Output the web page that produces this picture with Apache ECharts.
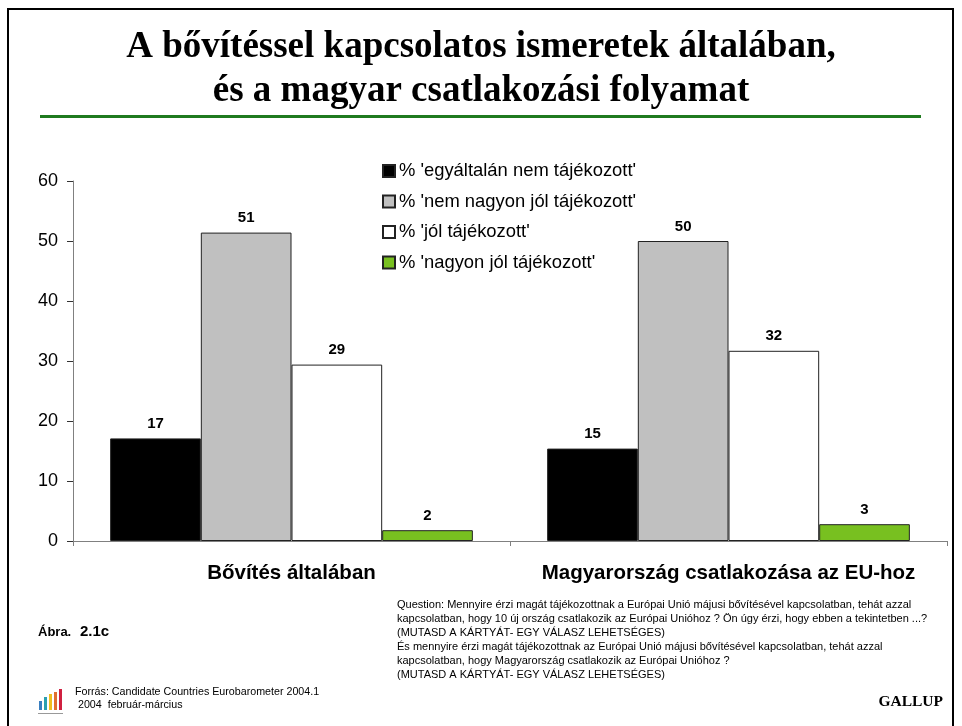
<!DOCTYPE html>
<html>
<head>
<meta charset="utf-8">
<title>Bővítés</title>
<script src="https://cdn.jsdelivr.net/npm/echarts@6/dist/echarts.min.js"></script>
<style>
  html, body { margin: 0; padding: 0; background: #fff; }
  #chart { width: 962px; height: 726px; }
</style>
</head>
<body>
<div id="chart"></div>
<script>
var categories = ['Bővítés általában', 'Magyarország csatlakozása az EU-hoz'];
var seriesNames = ["% 'egyáltalán nem tájékozott'", "% 'nem nagyon jól tájékozott'", "% 'jól tájékozott'", "% 'nagyon jól tájékozott'"];
var notInformed = [17.1, 15.4];
var notVeryWell = [51.4, 50.0];
var wellInformed = [29.4, 31.7];
var veryWell = [1.8, 2.8];
var yTicks = [0, 10, 20, 30, 40, 50, 60];

var colors = ['#000000', '#c0c0c0', '#ffffff', '#78c020'];
var values = [notInformed, notVeryWell, wellInformed, veryWell];

var chart = echarts.init(document.getElementById('chart'));

var series = seriesNames.map(function (name, i) {
    return {
        name: name,
        type: 'bar',
        data: values[i],
        barGap: '0%',
        barCategoryGap: '17%',
        itemStyle: { color: colors[i], borderColor: '#222', borderWidth: 1 },
        label: {
            show: true,
            position: 'top',
            distance: 7,
            fontFamily: 'Liberation Sans',
            fontWeight: 'bold',
            fontSize: 15,
            color: '#000',
            formatter: function (p) { return Math.round(p.value); }
        }
    };
});

var question = [
    'Question: Mennyire érzi magát tájékozottnak a Európai Unió májusi bővítésével kapcsolatban, tehát azzal',
    'kapcsolatban, hogy 10 új ország csatlakozik az Európai Unióhoz ? Ön úgy érzi, hogy ebben a tekintetben ...?',
    '(MUTASD A KÁRTYÁT- EGY VÁLASZ LEHETSÉGES)',
    'És mennyire érzi magát tájékozottnak az Európai Unió májusi bővítésével kapcsolatban, tehát azzal',
    'kapcsolatban, hogy Magyarország csatlakozik az Európai Unióhoz ?',
    '(MUTASD A KÁRTYÁT- EGY VÁLASZ LEHETSÉGES)'
].join('\n');

var option = {
    animation: false,
    backgroundColor: '#fff',
    title: {
        text: 'A bővítéssel kapcsolatos ismeretek általában,\nés a magyar csatlakozási folyamat',
        left: 'center',
        top: 20,
        textStyle: {
            fontFamily: 'Liberation Serif',
            fontWeight: 'bold',
            fontSize: 37,
            lineHeight: 44,
            color: '#000'
        }
    },
    legend: {
        orient: 'vertical',
        left: 382,
        top: 161,
        padding: 0,
        itemWidth: 12,
        itemHeight: 12,
        itemGap: 10.5,
        icon: 'rect',
        textStyle: { fontFamily: 'Liberation Sans', fontSize: 18.4, lineHeight: 20, color: '#000', padding: [0, 0, 0, -1] },
        data: seriesNames
    },
    grid: { left: 73, right: 15, top: 181, bottom: 185 },
    xAxis: {
        type: 'category',
        data: categories,
        axisLine: { lineStyle: { color: '#808080', width: 1 } },
        axisTick: { show: true, length: 5, lineStyle: { color: '#808080' } },
        axisLabel: {
            interval: 0,
            margin: 22,
            fontFamily: 'Liberation Sans',
            fontWeight: 'bold',
            fontSize: 20.5,
            color: '#000'
        }
    },
    yAxis: {
        type: 'value',
        min: yTicks[0],
        max: yTicks[yTicks.length - 1],
        interval: 10,
        splitLine: { show: false },
        axisLine: { show: true, lineStyle: { color: '#808080', width: 1 } },
        axisTick: { show: true, length: 6, lineStyle: { color: '#333' } },
        axisLabel: {
            margin: 15,
            fontFamily: 'Liberation Sans',
            fontSize: 18,
            color: '#000'
        }
    },
    series: series,
    graphic: [
        { type: 'rect', shape: { x: 8, y: 9, width: 945, height: 730 }, style: { fill: 'none', stroke: '#000', lineWidth: 2 }, silent: true },
        { type: 'rect', shape: { x: 40, y: 115, width: 881, height: 3 }, style: { fill: '#1f7a1f' } },
        { type: 'text', left: 38, top: 626, style: { text: 'Ábra. ', font: 'bold 13px "Liberation Sans"', fill: '#000' } },
        { type: 'text', left: 80, top: 624, style: { text: '2.1c', font: 'bold 15px "Liberation Sans"', fill: '#000' } },
        { type: 'text', left: 397, top: 598, style: { text: question, font: '11px "Liberation Sans"', lineHeight: 14, fill: '#000' } },
        { type: 'text', left: 75, top: 685, style: { text: 'Forrás: Candidate Countries Eurobarometer 2004.1\n 2004  február-március', font: '10.7px "Liberation Sans"', lineHeight: 13.5, fill: '#000' } },
        { type: 'text', right: 19, top: 694, style: { text: 'GALLUP', font: 'bold 15.5px "Liberation Serif"', fill: '#000' } },
        { type: 'rect', shape: { x: 39, y: 701, width: 3, height: 9 }, style: { fill: '#3a7fc0' } },
        { type: 'rect', shape: { x: 44, y: 697, width: 3, height: 13 }, style: { fill: '#2aa0b0' } },
        { type: 'rect', shape: { x: 49, y: 694, width: 3, height: 16 }, style: { fill: '#f0c020' } },
        { type: 'rect', shape: { x: 54, y: 692, width: 3, height: 18 }, style: { fill: '#e07030' } },
        { type: 'rect', shape: { x: 59, y: 689, width: 3, height: 21 }, style: { fill: '#d02040' } },
        { type: 'rect', shape: { x: 38, y: 713, width: 25, height: 1 }, style: { fill: '#999' } }
    ]
};

chart.setOption(option);
</script>
</body>
</html>
